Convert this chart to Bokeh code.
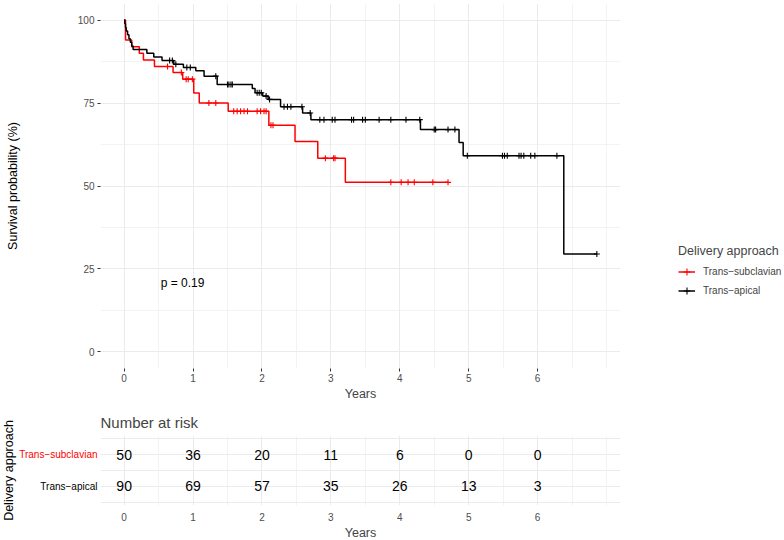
import numpy as np
from bokeh.plotting import figure
from bokeh.models import (Range1d, FixedTicker, Legend, LegendItem, Label, ColumnDataSource,
                          Grid, Title)
from bokeh.layouts import column, row
from bokeh.embed import file_html
from bokeh.resources import INLINE
from bokeh.core.properties import value

# ---------------- data ----------------
groups = ["Trans\u2212subclavian", "Trans\u2212apical"]
group_colors = ["#FF0000", "#000000"]

subcl_time = [0, 0.02, 0.11, 0.22, 0.28, 0.44, 0.71, 0.85, 1.01, 1.09, 1.51, 2.10, 2.48, 2.81, 3.21, 4.70]
subcl_surv = [100, 94.0, 92.0, 90.0, 88.0, 86.0, 84.2, 82.2, 78.0, 75.0, 72.5, 68.3, 63.4, 58.4, 51.1, 51.1]
subcl_censor = [0.63, 0.83, 0.90, 0.93, 0.99, 1.23, 1.33, 1.59, 1.64, 1.69, 1.74, 1.79, 1.93, 1.98,
                2.03, 2.06, 2.13, 2.16, 2.92, 3.04, 3.06, 3.87, 4.02, 4.12, 4.21, 4.48, 4.70]

apical_time = [0, 0.01, 0.02, 0.03, 0.05, 0.07, 0.09, 0.11, 0.13, 0.33, 0.43, 0.55, 0.72, 0.86, 1.04,
               1.16, 1.35, 1.86, 1.90, 2.01, 2.09, 2.27, 2.59, 2.71, 4.30, 4.86, 4.92, 6.38, 6.86]
apical_surv = [100, 98.9, 97.8, 96.7, 95.6, 94.4, 93.3, 92.2, 91.1, 90.0, 88.9, 87.8, 86.7, 85.7, 84.7,
               83.1, 80.6, 79.4, 78.1, 77.1, 76.1, 73.9, 72.0, 70.0, 67.0, 63.1, 59.1, 29.5, 29.5]
apical_censor = [0.66, 0.70, 0.75, 0.91, 0.96, 1.33, 1.50, 1.52, 1.55, 1.57, 1.93, 1.96, 1.99, 2.06,
                 2.11, 2.32, 2.37, 2.42, 2.58, 2.70, 2.84, 2.90, 3.02, 3.06, 3.30, 3.33, 3.46, 3.50,
                 3.70, 3.87, 4.09, 4.29, 4.50, 4.52, 4.70, 4.80, 4.98, 5.49, 5.52, 5.56, 5.73, 5.76,
                 5.80, 5.90, 5.96, 6.28, 6.86]

risk_times = [0, 1, 2, 3, 4, 5, 6]
risk_subcl = [50, 36, 20, 11, 6, 0, 0]
risk_apical = [90, 69, 57, 35, 26, 13, 3]

x_major = [0, 1, 2, 3, 4, 5, 6]
x_minor = [0.5, 1.5, 2.5, 3.5, 4.5, 5.5, 6.5, 7]
y_major = [0, 25, 50, 75, 100]
y_minor = [12.5, 37.5, 62.5, 87.5]
p_text = "p = 0.19"

# ---------------- styling / layout sizes ----------------
FONT = "Liberation Sans"
GRID = "#EBEBEB"
TICKLAB = "#4D4D4D"
ML = 100           # left border (labels)
FW = 520           # frame width
WL = 164           # legend column width
T1, F1, B1 = 3, 365, 36
H1 = T1 + F1 + B1
TQ, F2, BQ = 31, 70, 35
H2 = TQ + F2 + BQ

t_max = max(apical_time[-1], subcl_time[-1])
xr = Range1d(-0.05 * t_max, 1.05 * t_max)


def style_axes(fig):
    fig.outline_line_color = None
    fig.axis.axis_line_color = None
    fig.axis.major_tick_line_color = "#333333"
    fig.axis.major_tick_out = 3
    fig.axis.major_tick_in = 0
    fig.axis.minor_tick_line_color = None
    fig.axis.major_label_text_font = FONT
    fig.axis.major_label_text_font_size = "10px"
    fig.axis.major_label_text_color = TICKLAB
    fig.axis.major_label_standoff = 2
    fig.axis.axis_label_text_font = FONT
    fig.axis.axis_label_text_font_size = "12.5px"
    fig.axis.axis_label_text_font_style = "normal"
    fig.axis.axis_label_text_color = "#000000"
    fig.grid.grid_line_color = GRID
    fig.grid.grid_line_width = 1
    fig.border_fill_color = "white"


def years_title(fig):
    fig.add_layout(Title(text="Years", align="center", text_font=FONT, text_font_size="12.5px",
                         text_font_style="normal", standoff=0, offset=0), "below")


# ---------------- survival plot ----------------
p = figure(width=ML + FW, height=H1, x_range=xr, y_range=Range1d(-5, 105),
           output_backend="svg", toolbar_location=None,
           min_border_left=ML, min_border_right=0, min_border_top=T1, min_border_bottom=B1)
style_axes(p)
p.xaxis.ticker = FixedTicker(ticks=x_major, minor_ticks=x_minor)
p.yaxis.ticker = FixedTicker(ticks=y_major, minor_ticks=y_minor)
p.xgrid.minor_grid_line_color = GRID
p.ygrid.minor_grid_line_color = GRID
p.xgrid.minor_grid_line_width = 0.6
p.ygrid.minor_grid_line_width = 0.6
p.xaxis.major_label_standoff = 1
years_title(p)
p.yaxis.axis_label = "Survival probability (%)"
p.yaxis.axis_label_standoff = 55


def level_at(times, surv, ts):
    idx = np.searchsorted(np.array(times), np.array(ts), side="right") - 1
    return [surv[i] for i in idx]


series = [(groups[0], group_colors[0], subcl_time, subcl_surv, subcl_censor),
          (groups[1], group_colors[1], apical_time, apical_surv, apical_censor)]
for name, col, tt, ss, cc in series:
    p.step(x=tt, y=ss, mode="after", line_color=col, line_width=1.5)
    p.scatter(x=cc, y=level_at(tt, ss, cc), marker="cross", size=6, line_color=col, line_width=1.1)

p.add_layout(Label(x=0.53, y=20.8, text=p_text, text_font=FONT, text_font_size="12px",
                   text_baseline="middle", text_align="left", text_color="#000000"))

# ---------------- risk table ----------------
rows = {groups[0]: 2, groups[1]: 1}
yr_tab = Range1d(0.4, 2.6)
q = figure(width=FW, height=H2, x_range=xr, y_range=yr_tab,
           output_backend="svg", toolbar_location=None, y_axis_location=None,
           min_border_left=0, min_border_right=0, min_border_top=TQ, min_border_bottom=BQ)
style_axes(q)
q.xaxis.ticker = FixedTicker(ticks=x_major, minor_ticks=x_minor)
q.xgrid.minor_grid_line_color = GRID
q.xgrid.minor_grid_line_width = 0.6
q.xaxis.major_tick_out = 0
q.xaxis.major_label_standoff = 3
q.add_layout(Grid(dimension=1, ticker=FixedTicker(ticks=sorted(rows.values())),
                  grid_line_color=GRID, grid_line_width=1))
q.title.text = "Number at risk"
q.title.text_font = FONT
q.title.text_font_size = "15px"
q.title.text_font_style = "normal"
q.title.align = "left"
q.title.standoff = 10
years_title(q)

tx, ty, tt = [], [], []
for name, counts in [(groups[0], risk_subcl), (groups[1], risk_apical)]:
    for t, n in zip(risk_times, counts):
        tx.append(t)
        ty.append(rows[name])
        tt.append(str(n))
q.text(x="x", y="y", text="t", source=ColumnDataSource(dict(x=tx, y=ty, t=tt)),
       text_align="center", text_baseline="middle", text_font=value(FONT),
       text_font_size="14px", text_color="#000000")

# row labels + table y title: narrow figure whose full-height frame is mapped onto q's rows
upp = (yr_tab.end - yr_tab.start) / F2
lab = figure(width=ML, height=H2, x_range=Range1d(0, ML),
             y_range=Range1d(yr_tab.start - BQ * upp, yr_tab.end + TQ * upp),
             output_backend="svg", toolbar_location=None,
             x_axis_location=None, y_axis_location=None,
             min_border_left=0, min_border_right=0, min_border_top=0, min_border_bottom=0)
lab.frame_align = False
lab.outline_line_color = None
lab.border_fill_color = "white"
for g in lab.grid:
    g.visible = False
lab.text(x=[ML - 3] * len(groups), y=[rows[g] for g in groups], text=groups,
         text_color=group_colors, text_align="right", text_baseline="middle",
         text_font=value(FONT), text_font_size="10px")
lab.text(x=[1], y=[(yr_tab.start + yr_tab.end) / 2], text=["Delivery approach"],
         angle=np.pi / 2, text_align="center", text_baseline="top",
         text_font=value(FONT), text_font_size="12.5px", text_color="#000000")

# ---------------- legend column ----------------
leg = figure(width=WL, height=H1 + H2, x_range=Range1d(0, 1), y_range=Range1d(0, 1),
             output_backend="svg", toolbar_location=None,
             x_axis_location=None, y_axis_location=None,
             min_border_left=0, min_border_right=0, min_border_top=0, min_border_bottom=0)
leg.frame_align = False
leg.outline_line_color = None
for g in leg.grid:
    g.visible = False
items = []
for name, col, tt, ss, cc in series:
    # same series data (outside this figure's visible range) so legend keys get styled glyphs
    lr = leg.step(x=tt, y=ss, mode="after", line_color=col, line_width=1.5)
    cr = leg.scatter(x=cc, y=level_at(tt, ss, cc), marker="cross", size=6,
                     line_color=col, line_width=1.1)
    items.append(LegendItem(label=name, renderers=[lr, cr]))
legend = Legend(items=items, title="Delivery approach", location=(58, 241),
                border_line_color=None, background_fill_alpha=0, padding=0, margin=0,
                spacing=2, glyph_width=17, glyph_height=17, label_height=17,
                label_standoff=8, label_text_font=FONT, label_text_font_size="10px",
                title_text_font=FONT, title_text_font_size="12.5px",
                title_text_font_style="normal", title_standoff=5)
leg.add_layout(legend, "center")

layout = row(column(p, row(lab, q, spacing=0), spacing=0), leg, spacing=0)
open("out.html", "w").write(file_html(layout, INLINE))
